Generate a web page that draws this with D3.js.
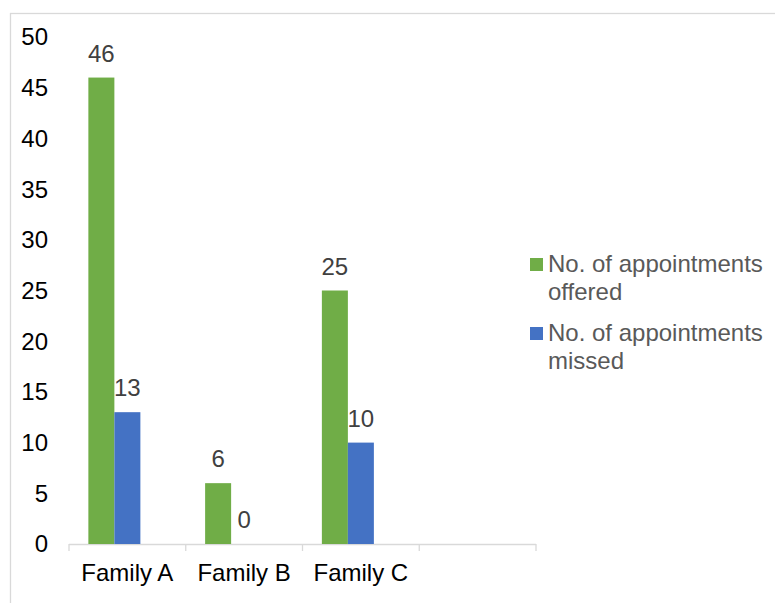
<!DOCTYPE html>
<html><head><meta charset="utf-8">
<script src="https://cdn.jsdelivr.net/npm/d3@7"></script>
<style>html,body{margin:0;padding:0;background:#fff;}svg{display:block;font-family:"Liberation Sans",Arial,sans-serif;}</style>
</head><body>
<script>
const categories = ["Family A", "Family B", "Family C", ""];
const seriesNames = ["No. of appointments offered", "No. of appointments missed"];
const offered = [46, 6, 25, null];
const missed = [13, 0, 10, null];
const slots = ["offered", "missed", "spare"];
const yTicks = [0, 5, 10, 15, 20, 25, 30, 35, 40, 45, 50];
const colors = ["#70AD47", "#4472C4"];

const W = 775, H = 603;
const svg = d3.select("body").append("svg").attr("width", W).attr("height", H);

svg.append("rect").attr("x", 10.5).attr("y", 13.5).attr("width", 900).attr("height", 800)
  .attr("fill", "none").attr("stroke", "#D9D9D9").attr("stroke-width", 1.3);

const x = d3.scaleBand().domain(categories.map((c, i) => i)).range([69, 536]).paddingInner(0).paddingOuter(0);
const xs = d3.scaleBand().domain(slots).range([0, x.bandwidth()]).paddingInner(0).paddingOuter(0.745);
const y = d3.scaleLinear().domain([0, 50]).range([544, 37]);

// y labels
svg.append("g").selectAll("text").data(yTicks).join("text")
  .attr("x", 48).attr("y", d => y(d)).attr("dy", "0.35em")
  .attr("text-anchor", "end").attr("font-size", 24).attr("fill", "#000").text(d => d);

// x axis
const xa = svg.append("g");
xa.append("line").attr("x1", 69).attr("x2", 536).attr("y1", 544.5).attr("y2", 544.5)
  .attr("stroke", "#D9D9D9").attr("stroke-width", 1.3);
const bounds = d3.range(categories.length + 1).map(i => 69 + i * x.step());
xa.selectAll("line.tk").data(bounds).join("line").attr("class", "tk")
  .attr("x1", d => d).attr("x2", d => d).attr("y1", 544).attr("y2", 551)
  .attr("stroke", "#D9D9D9").attr("stroke-width", 1.3);
xa.selectAll("text").data(categories).join("text")
  .attr("x", (d, i) => x(i) + x.bandwidth() / 2).attr("y", 581)
  .attr("text-anchor", "middle").attr("font-size", 24).attr("fill", "#000").text(d => d);

// bars
const seriesVals = [offered, missed];
seriesVals.forEach((vals, s) => {
  const g = svg.append("g");
  const data = vals.map((v, i) => ({v, i})).filter(d => d.v !== null);
  g.selectAll("rect").data(data).join("rect")
    .attr("x", d => x(d.i) + xs(slots[s])).attr("width", xs.bandwidth())
    .attr("y", d => y(d.v)).attr("height", d => y(0) - y(d.v))
    .attr("fill", colors[s]);
  g.selectAll("text").data(data).join("text")
    .attr("x", d => x(d.i) + xs(slots[s]) + xs.bandwidth() / 2)
    .attr("y", d => y(d.v) - 16)
    .attr("text-anchor", "middle").attr("font-size", 24).attr("fill", "#404040").text(d => d.v);
});

// legend
const legY = [258, 327];
const leg = svg.append("g");
seriesNames.forEach((name, s) => {
  leg.append("rect").attr("x", 530).attr("y", legY[s]).attr("width", 13).attr("height", 13).attr("fill", colors[s]);
  const words = name.split(" ");
  const line1 = words.slice(0, 3).join(" ");
  const line2 = words.slice(3).join(" ");
  const t = leg.append("text").attr("font-size", 24).attr("fill", "#595959");
  t.append("tspan").attr("x", 548).attr("y", legY[s] + 14).text(line1);
  t.append("tspan").attr("x", 548).attr("y", legY[s] + 41.5).text(line2);
});
</script>
</body></html>
